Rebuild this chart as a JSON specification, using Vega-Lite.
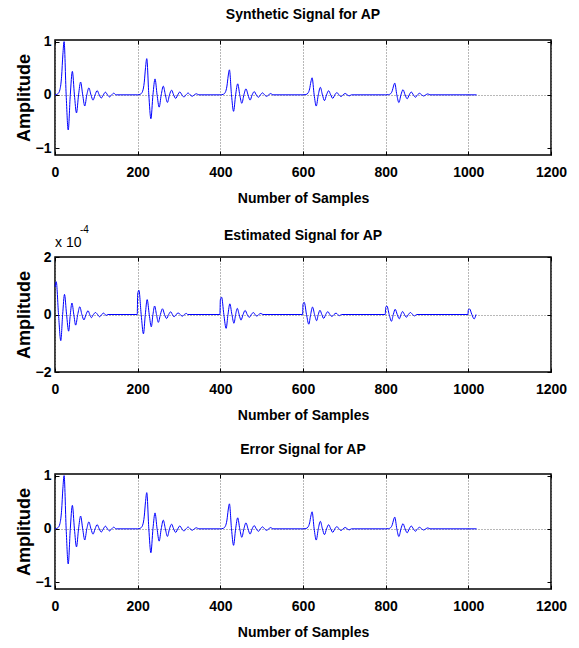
{
  "$schema": "https://vega.github.io/schema/vega-lite/v6.json",
  "padding": {"left": 14, "top": 6, "right": 5, "bottom": 5},
  "background": "white",
  "datasets": {
    "syn": [
      {"n":0,"a":0},{"n":7,"a":0.02},{"n":12,"a":0.1},{"n":16,"a":0.35},{"n":19,"a":0.75},{"n":22,"a":1.0},{"n":27,"a":0},{"n":32,"a":-0.66},{"n":37,"a":0},{"n":42,"a":0.44},{"n":47,"a":0},{"n":52,"a":-0.34},{"n":57,"a":0},{"n":62,"a":0.24},{"n":67,"a":0},{"n":72,"a":-0.21},{"n":77,"a":0},{"n":82,"a":0.13},{"n":87,"a":0},{"n":92,"a":-0.1},{"n":97,"a":0},{"n":102,"a":0.08},{"n":107,"a":0},{"n":112,"a":-0.06},{"n":117,"a":0},{"n":122,"a":0.05},{"n":127,"a":0},{"n":132,"a":-0.04},{"n":137,"a":0},{"n":142,"a":0.03},{"n":148,"a":0},
      {"n":200,"a":0},{"n":207,"a":0.014},{"n":212,"a":0.068},{"n":216,"a":0.238},{"n":219,"a":0.51},{"n":222,"a":0.68},{"n":227,"a":0},{"n":232,"a":-0.449},{"n":237,"a":0},{"n":242,"a":0.299},{"n":247,"a":0},{"n":252,"a":-0.231},{"n":257,"a":0},{"n":262,"a":0.163},{"n":267,"a":0},{"n":272,"a":-0.143},{"n":277,"a":0},{"n":282,"a":0.088},{"n":287,"a":0},{"n":292,"a":-0.068},{"n":297,"a":0},{"n":302,"a":0.054},{"n":307,"a":0},{"n":312,"a":-0.041},{"n":317,"a":0},{"n":322,"a":0.034},{"n":327,"a":0},{"n":332,"a":-0.027},{"n":337,"a":0},{"n":342,"a":0.02},{"n":348,"a":0},
      {"n":400,"a":0},{"n":407,"a":0.009},{"n":412,"a":0.047},{"n":416,"a":0.165},{"n":419,"a":0.353},{"n":422,"a":0.47},{"n":427,"a":0},{"n":432,"a":-0.31},{"n":437,"a":0},{"n":442,"a":0.207},{"n":447,"a":0},{"n":452,"a":-0.16},{"n":457,"a":0},{"n":462,"a":0.113},{"n":467,"a":0},{"n":472,"a":-0.099},{"n":477,"a":0},{"n":482,"a":0.061},{"n":487,"a":0},{"n":492,"a":-0.047},{"n":497,"a":0},{"n":502,"a":0.038},{"n":507,"a":0},{"n":512,"a":-0.028},{"n":517,"a":0},{"n":522,"a":0.024},{"n":527,"a":0},
      {"n":600,"a":0},{"n":607,"a":0.006},{"n":612,"a":0.032},{"n":616,"a":0.112},{"n":619,"a":0.24},{"n":622,"a":0.32},{"n":627,"a":0},{"n":632,"a":-0.211},{"n":637,"a":0},{"n":642,"a":0.141},{"n":647,"a":0},{"n":652,"a":-0.109},{"n":657,"a":0},{"n":662,"a":0.077},{"n":667,"a":0},{"n":672,"a":-0.067},{"n":677,"a":0},{"n":682,"a":0.042},{"n":687,"a":0},{"n":692,"a":-0.032},{"n":697,"a":0},{"n":702,"a":0.026},{"n":707,"a":0},{"n":712,"a":-0.019},{"n":717,"a":0},
      {"n":800,"a":0},{"n":807,"a":0.004},{"n":812,"a":0.022},{"n":816,"a":0.077},{"n":819,"a":0.165},{"n":822,"a":0.22},{"n":827,"a":0},{"n":832,"a":-0.145},{"n":837,"a":0},{"n":842,"a":0.097},{"n":847,"a":0},{"n":852,"a":-0.075},{"n":857,"a":0},{"n":862,"a":0.053},{"n":867,"a":0},{"n":872,"a":-0.046},{"n":877,"a":0},{"n":882,"a":0.029},{"n":887,"a":0},{"n":892,"a":-0.022},{"n":897,"a":0},{"n":902,"a":0.018},{"n":907,"a":0},
      {"n":1020,"a":0}
    ],
    "est": [
      {"n":0,"a":0.96},{"n":3,"a":1.14},{"n":8.5,"a":0},{"n":14,"a":-0.91},{"n":18.5,"a":0},{"n":23,"a":0.7},{"n":28,"a":0},{"n":33,"a":-0.58},{"n":37,"a":0},{"n":41,"a":0.4},{"n":45.5,"a":0},{"n":50,"a":-0.37},{"n":55,"a":0},{"n":60,"a":0.27},{"n":65,"a":0},{"n":70,"a":-0.19},{"n":75,"a":0},{"n":80,"a":0.13},{"n":84,"a":0},{"n":88,"a":-0.11},{"n":93,"a":0},{"n":98,"a":0.07},{"n":103,"a":0},{"n":108,"a":-0.08},{"n":113,"a":0},{"n":118,"a":0.05},{"n":121,"a":0},{"n":124,"a":-0.03},{"n":128,"a":0},
      {"n":199,"a":0},{"n":200,"a":0.71},{"n":203,"a":0.844},{"n":208.5,"a":0},{"n":214,"a":-0.673},{"n":218.5,"a":0},{"n":223,"a":0.518},{"n":228,"a":0},{"n":233,"a":-0.429},{"n":237,"a":0},{"n":241,"a":0.296},{"n":245.5,"a":0},{"n":250,"a":-0.274},{"n":255,"a":0},{"n":260,"a":0.2},{"n":265,"a":0},{"n":270,"a":-0.141},{"n":275,"a":0},{"n":280,"a":0.096},{"n":284,"a":0},{"n":288,"a":-0.081},{"n":293,"a":0},{"n":298,"a":0.052},{"n":303,"a":0},{"n":308,"a":-0.059},{"n":313,"a":0},{"n":318,"a":0.037},{"n":321,"a":0},
      {"n":399,"a":0},{"n":400,"a":0.509},{"n":403,"a":0.604},{"n":408.5,"a":0},{"n":414,"a":-0.482},{"n":418.5,"a":0},{"n":423,"a":0.371},{"n":428,"a":0},{"n":433,"a":-0.307},{"n":437,"a":0},{"n":441,"a":0.212},{"n":445.5,"a":0},{"n":450,"a":-0.196},{"n":455,"a":0},{"n":460,"a":0.143},{"n":465,"a":0},{"n":470,"a":-0.101},{"n":475,"a":0},{"n":480,"a":0.069},{"n":484,"a":0},{"n":488,"a":-0.058},{"n":493,"a":0},{"n":498,"a":0.037},{"n":503,"a":0},
      {"n":599,"a":0},{"n":600,"a":0.355},{"n":603,"a":0.422},{"n":608.5,"a":0},{"n":614,"a":-0.337},{"n":618.5,"a":0},{"n":623,"a":0.259},{"n":628,"a":0},{"n":633,"a":-0.215},{"n":637,"a":0},{"n":641,"a":0.148},{"n":645.5,"a":0},{"n":650,"a":-0.137},{"n":655,"a":0},{"n":660,"a":0.1},{"n":665,"a":0},{"n":670,"a":-0.07},{"n":675,"a":0},{"n":680,"a":0.048},{"n":684,"a":0},{"n":688,"a":-0.041},{"n":693,"a":0},
      {"n":799,"a":0},{"n":800,"a":0.25},{"n":803,"a":0.296},{"n":808.5,"a":0},{"n":814,"a":-0.237},{"n":818.5,"a":0},{"n":823,"a":0.182},{"n":828,"a":0},{"n":833,"a":-0.151},{"n":837,"a":0},{"n":841,"a":0.104},{"n":845.5,"a":0},{"n":850,"a":-0.096},{"n":855,"a":0},{"n":860,"a":0.07},{"n":865,"a":0},{"n":870,"a":-0.049},{"n":875,"a":0},
      {"n":999,"a":0},{"n":1000,"a":0.163},{"n":1003,"a":0.194},{"n":1008.5,"a":0},{"n":1014,"a":-0.155},{"n":1018.5,"a":0}
    ],
    "mark": [{"n":0,"a":2}]
  },
  "config": {
    "font": "Liberation Sans",
    "view": {"stroke": "black", "strokeWidth": 1.5},
    "axis": {
      "labelFont": "Liberation Sans", "labelFontSize": 14, "labelFontWeight": "bold", "labelColor": "black",
      "titleFont": "Liberation Sans", "titleFontSize": 14, "titleFontWeight": "bold", "titleColor": "black",
      "tickColor": "black", "tickSize": -4, "tickWidth": 1,
      "domain": false,
      "gridColor": "#707070", "gridDash": [1, 2], "gridWidth": 1,
      "labelOverlap": false
    },
    "title": {"font": "Liberation Sans", "fontSize": 14, "fontWeight": "bold", "color": "black"},
    "concat": {"spacing": 18}
  },
  "vconcat": [
    {
      "width": 496, "height": 115,
      "title": {"text": "Synthetic Signal for AP", "offset": 13},
      "data": {"name": "syn"},
      "layer": [
        {
          "mark": {"type": "line", "interpolate": "monotone", "color": "#0000FF", "strokeWidth": 1},
          "encoding": {
            "x": {"field": "n", "type": "quantitative", "scale": {"domain": [0, 1200], "nice": false, "zero": false},
                  "axis": {"orient": "bottom", "values": [0,200,400,600,800,1000,1200], "format": "d", "title": "Number of Samples", "grid": true, "labelFlush": false, "labelPadding": 14, "titlePadding": 12}},
            "y": {"field": "a", "type": "quantitative", "scale": {"domain": [-1.13, 1.03], "nice": false, "zero": false},
                  "axis": {"orient": "left", "values": [-1,0,1], "format": "d", "title": "Amplitude", "titleFontSize": 18, "grid": true,
                           "gridOpacity": {"condition": {"test": "datum.value === 0", "value": 1}, "value": 0}, "labelPadding": 8, "titlePadding": 2}}
          }
        },
        {
          "mark": {"type": "line", "opacity": 0},
          "encoding": {
            "x": {"field": "n", "type": "quantitative", "scale": {"domain": [0, 1200], "nice": false, "zero": false},
                  "axis": {"orient": "top", "values": [0,200,400,600,800,1000,1200], "labels": false, "title": null, "grid": false}},
            "y": {"field": "a", "type": "quantitative", "scale": {"domain": [-1.13, 1.03], "nice": false, "zero": false},
                  "axis": {"orient": "right", "values": [-1,0,1], "labels": false, "title": null, "grid": false}}
          }
        }
      ],
      "resolve": {"axis": {"x": "independent", "y": "independent"}}
    },
    {
      "width": 496, "height": 115,
      "title": {"text": "Estimated Signal for AP", "offset": -18},
      "layer": [
        {
          "data": {"name": "est"},
          "mark": {"type": "line", "interpolate": "monotone", "color": "#0000FF", "strokeWidth": 1},
          "encoding": {
            "x": {"field": "n", "type": "quantitative", "scale": {"domain": [0, 1200], "nice": false, "zero": false},
                  "axis": {"orient": "bottom", "values": [0,200,400,600,800,1000,1200], "format": "d", "title": "Number of Samples", "grid": true, "labelFlush": false, "labelPadding": 14, "titlePadding": 12}},
            "y": {"field": "a", "type": "quantitative", "scale": {"domain": [-2, 2], "nice": false, "zero": false},
                  "axis": {"orient": "left", "values": [-2,0,2], "format": "d", "title": "Amplitude", "titleFontSize": 18, "grid": true,
                           "gridOpacity": {"condition": {"test": "datum.value === 0", "value": 1}, "value": 0}, "labelPadding": 8, "titlePadding": 2}}
          }
        },
        {
          "data": {"name": "est"},
          "mark": {"type": "line", "opacity": 0},
          "encoding": {
            "x": {"field": "n", "type": "quantitative", "scale": {"domain": [0, 1200], "nice": false, "zero": false},
                  "axis": {"orient": "top", "values": [0,200,400,600,800,1000,1200], "labels": false, "title": null, "grid": false}},
            "y": {"field": "a", "type": "quantitative", "scale": {"domain": [-2, 2], "nice": false, "zero": false},
                  "axis": {"orient": "right", "values": [-2,0,2], "labels": false, "title": null, "grid": false}}
          }
        },
        {
          "data": {"name": "mark"},
          "mark": {"type": "text", "text": "x 10", "align": "left", "baseline": "alphabetic", "dy": -10, "fontSize": 14, "font": "Liberation Sans", "color": "black"},
          "encoding": {
            "x": {"field": "n", "type": "quantitative", "axis": null},
            "y": {"field": "a", "type": "quantitative", "axis": null}
          }
        },
        {
          "data": {"name": "mark"},
          "mark": {"type": "text", "text": "-4", "align": "left", "baseline": "alphabetic", "dx": 25, "dy": -24, "fontSize": 10, "font": "Liberation Sans", "color": "black"},
          "encoding": {
            "x": {"field": "n", "type": "quantitative", "axis": null},
            "y": {"field": "a", "type": "quantitative", "axis": null}
          }
        }
      ],
      "resolve": {"axis": {"x": "independent", "y": "independent"}}
    },
    {
      "width": 496, "height": 115,
      "title": {"text": "Error Signal for AP", "offset": 12},
      "data": {"name": "syn"},
      "layer": [
        {
          "mark": {"type": "line", "interpolate": "monotone", "color": "#0000FF", "strokeWidth": 1},
          "encoding": {
            "x": {"field": "n", "type": "quantitative", "scale": {"domain": [0, 1200], "nice": false, "zero": false},
                  "axis": {"orient": "bottom", "values": [0,200,400,600,800,1000,1200], "format": "d", "title": "Number of Samples", "grid": true, "labelFlush": false, "labelPadding": 14, "titlePadding": 12}},
            "y": {"field": "a", "type": "quantitative", "scale": {"domain": [-1.13, 1.03], "nice": false, "zero": false},
                  "axis": {"orient": "left", "values": [-1,0,1], "format": "d", "title": "Amplitude", "titleFontSize": 18, "grid": true,
                           "gridOpacity": {"condition": {"test": "datum.value === 0", "value": 1}, "value": 0}, "labelPadding": 8, "titlePadding": 2}}
          }
        },
        {
          "mark": {"type": "line", "opacity": 0},
          "encoding": {
            "x": {"field": "n", "type": "quantitative", "scale": {"domain": [0, 1200], "nice": false, "zero": false},
                  "axis": {"orient": "top", "values": [0,200,400,600,800,1000,1200], "labels": false, "title": null, "grid": false}},
            "y": {"field": "a", "type": "quantitative", "scale": {"domain": [-1.13, 1.03], "nice": false, "zero": false},
                  "axis": {"orient": "right", "values": [-1,0,1], "labels": false, "title": null, "grid": false}}
          }
        }
      ],
      "resolve": {"axis": {"x": "independent", "y": "independent"}}
    }
  ]
}
